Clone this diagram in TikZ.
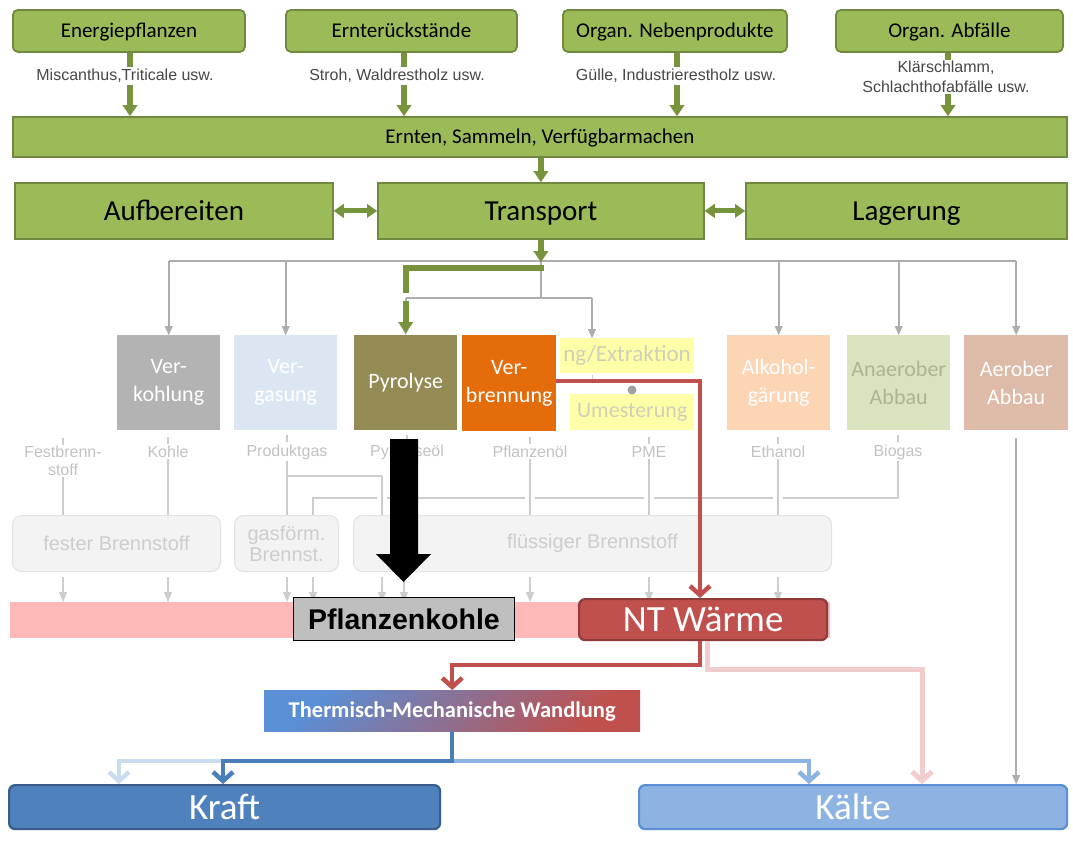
\documentclass[tikz,border=0pt]{standalone}
\usepackage{fontspec}
\setmainfont{Carlito}
\newfontfamily\arialf{Liberation Sans}
\usetikzlibrary{arrows.meta}

\definecolor{grn}{HTML}{9BBB59}
\definecolor{grnD}{HTML}{71893F}
\definecolor{grnL}{HTML}{77933C}
\definecolor{grayA}{HTML}{ADADAD}
\definecolor{grayB}{HTML}{CDCDCD}
\definecolor{grayT}{HTML}{C2C2C2}
\definecolor{kohl}{HTML}{B3B3B3}
\definecolor{verg}{HTML}{DCE6F2}
\definecolor{pyro}{HTML}{948A54}
\definecolor{verb}{HTML}{E46C0A}
\definecolor{yel}{HTML}{FFFFA8}
\definecolor{yelT}{HTML}{CFCFB8}
\definecolor{alko}{HTML}{FCD5B5}
\definecolor{anae}{HTML}{D7E4BD}
\definecolor{anaeT}{HTML}{ABB595}
\definecolor{aero}{HTML}{DDBBA8}
\definecolor{fuel}{HTML}{F3F3F3}
\definecolor{fuelD}{HTML}{E2E2E2}
\definecolor{pinkbar}{HTML}{FFB8B8}
\definecolor{pkG}{HTML}{BFBFBF}
\definecolor{redW}{HTML}{C0504D}
\definecolor{redD}{HTML}{8E3B39}
\definecolor{redL}{HTML}{F2CDCD}
\definecolor{bluK}{HTML}{4F81BD}
\definecolor{bluD}{HTML}{385D8A}
\definecolor{bluL}{HTML}{8DB3E2}
\definecolor{bluE}{HTML}{5A8FD6}
\definecolor{bluF}{HTML}{CBDBF0}
\definecolor{lineB}{HTML}{4A7EBB}

% box from its upper left to its lower right corner
\newcommand\bx[7]{\node[#2, anchor=north west, minimum width={(#5)-(#3)}, minimum height={(#6)-(#4)}] (#1) at (#3,#4) {#7};}

\tikzset{
  base/.style={inner sep=0pt, align=center},
  oneline/.style={text height=#1, text depth=0pt},
  gtop/.style={base, oneline=13.5pt, draw=grnD, line width=1.8pt, fill=grn, rounded corners=5pt, font=\fontsize{21}{24}\selectfont},
  gbar/.style={base, oneline=13.5pt, draw=grnD, line width=1.8pt, fill=grn, font=\fontsize{21}{24}\selectfont},
  gbig/.style={base, oneline=18.7pt, draw=grnD, line width=1.8pt, fill=grn, font=\fontsize{29}{32}\selectfont},
  srclbl/.style={inner sep=1.5pt, align=center, text=black!72, font=\arialf\fontsize{16}{19.5}\selectfont},
  proc/.style={base, text=white, font=\fontsize{22}{28}\selectfont},
  prod/.style={inner sep=1pt, align=center, text=grayT, font=\arialf\fontsize{16}{18}\selectfont},
  fuelbox/.style={base, draw=fuelD, line width=1pt, fill=fuel, rounded corners=9pt, text=grayB, font=\arialf\fontsize{20}{21}\selectfont},
  bigout/.style={base, oneline=23.8pt, line width=2.2pt, rounded corners=6pt, text=white, font=\fontsize{37}{40}\selectfont},
  gshaft/.style={draw=grnL, line width=6pt},
  garrow/.style={draw=grnL, line width=6pt, -{Triangle[width=15pt,length=11pt,line width=0.1pt]}},
  gdouble/.style={draw=grnL, line width=5pt, {Triangle[width=14pt,length=10pt,line width=0.1pt]}-{Triangle[width=14pt,length=10pt,line width=0.1pt]}},
  grayup/.style={draw=grayA, line width=1.8pt},
  grayarr/.style={grayup, -{Triangle[width=8pt,length=9pt,line width=0.1pt]}},
  graylo/.style={draw=grayB, line width=1.3pt},
  grayloarr/.style={graylo, -{Triangle[width=8pt,length=10pt,line width=0.1pt]}},
  vee/.style={-{Straight Barb[length=9pt,width=20pt]}},
  flow/.style={line width=4.5pt, line join=miter},
}

\begin{document}
\begin{tikzpicture}[x=1pt,y=-1pt]
\useasboundingbox[fill=white] (0,0) rectangle (1073,841);

% ---------- biomass sources ----------
\bx{e1}{gtop}{12}{9}{244}{51}{Energiepflanzen}
\bx{e2}{gtop}{285}{9}{516}{51}{Ernterückstände}
\bx{e3}{gtop}{562}{9}{786}{51}{Organ. Nebenprodukte}
\bx{e4}{gtop}{835}{9}{1062}{51}{Organ. Abfälle}

\node[srclbl] (l1) at (125,76) {Miscanthus,Triticale usw.};
\node[srclbl] (l2) at (397,76) {Stroh, Waldrestholz usw.};
\node[srclbl] (l3) at (676,76) {Gülle, Industrierestholz usw.};
\node[srclbl] (l4) at (946,77) {Klärschlamm,\\Schlachthofabfälle usw.};

\bx{bar}{gbar}{12}{116}{1066}{156}{Ernten, Sammeln, Verfügbarmachen}

\coordinate (a1) at (130,0);
\coordinate (a2) at (404,0);
\coordinate (a3) at (677,0);
\coordinate (a4) at (948,0);
\foreach \i in {1,2,3,4}{
  \draw[gshaft] (e\i.south -| a\i) -- (l\i.north -| a\i);
  \draw[garrow] (l\i.south -| a\i) -- (bar.north -| a\i);
}

% ---------- logistics ----------
\bx{auf}{gbig}{14}{182}{332}{238}{Aufbereiten}
\bx{tra}{gbig}{377}{182}{703}{238}{Transport}
\bx{lag}{gbig}{745}{182}{1066}{238}{Lagerung}
\draw[garrow] (bar.south -| tra) -- (tra.north);
\draw[gdouble] (auf.east) -- (tra.west);
\draw[gdouble] (tra.east) -- (lag.west);

% ---------- conversion processes ----------
\bx{vk}{proc,fill=kohl}{117}{335}{220}{430}{Ver-\\kohlung}
\bx{vg}{proc,fill=verg}{234}{335}{337}{430}{Ver-\\gasung}
\bx{py}{proc,fill=pyro}{354}{335}{457}{430}{Pyrolyse}
\bx{pe}{base,fill=yel}{560}{338}{694}{373}{}
\node[anchor=east, inner sep=0pt, text=yelT, font=\fontsize{23}{26}\selectfont] (pet) at (691,355.5) {ng/Extraktion};
\bx{vb}{proc,fill=verb}{462}{335}{556}{431}{Ver-\\brennung}
\bx{um}{proc,fill=yel,text=yelT}{570}{394}{694}{430}{Umesterung}
\bx{ak}{proc,fill=alko}{727}{335}{830}{430}{Alkohol-\\gärung}
\bx{an}{proc,fill=anae,text=anaeT}{847}{335}{950}{430}{Anaerober\\Abbau}
\bx{ae}{proc,fill=aero}{964}{335}{1068}{430}{Aerober\\Abbau}

% distribution lines from transport
\coordinate (h1) at (0,261);
\coordinate (h2) at (0,298);
\coordinate (pa) at (592,298);
\draw[grayup] (vk.north |- h1) -- (ae.north |- h1);
\foreach \n in {vk,vg,ak,an,ae} \draw[grayarr] (\n.north |- h1) -- (\n.north);
\draw[grayup] (tra.south |- h1) -- (tra.south |- h2);
\draw[grayup] (py.north |- h2) -- (pa);
\draw[grayarr] (pa) -- (pa |- pe.north);
\draw[grayarr] (py.north |- h2) -- (py.north);

% chosen route to pyrolysis
\coordinate (g1) at (0,268);
\draw[garrow] (tra.south) -- (tra.south |- 0,262);
\draw[gshaft, line join=miter] ([xshift=3pt]tra.south |- g1) -- (py.north |- g1) -- (py.north |- 0,293);
\draw[garrow] (py.north |- 0,301) -- ([yshift=2pt]py.north);

% link between pressing and transesterification
\draw[draw=grayB, line width=1pt] (pa |- 0,375) -- (pa |- 0,381);
\fill[black!37] (632,390) circle (4.5);

% ---------- products ----------
\node[prod] (p0) at (63,461) {Festbrenn-\\stoff};
\node[prod] (p1) at (168,452) {Kohle};
\node[prod] (p2) at (287,452) {Produktgas};
\node[prod] (p3) at (407,452) {Pyrolyseöl};
\node[prod] (p4) at (530,452) {Pflanzenöl};
\node[prod] (p5) at (649,452) {PME};
\node[prod] (p6) at (778,452) {Ethanol};
\node[prod] (p7) at (898,452) {Biogas};
\foreach \n in {p1,p2,p3,p4,p5,p6,p7} \draw[graylo] (\n.north) ++(0,-8) -- ++(0,7);
\draw[graylo] (p0.north) ++(0,-7) -- ++(0,7);

% ---------- fuel groups ----------
\bx{fb}{fuelbox}{12}{515}{220}{571}{fester Brennstoff}
\bx{gb}{fuelbox}{234}{515}{338}{571}{gasförm.\\Brennst.}
\bx{flb}{fuelbox}{353}{515}{831}{571}{flüssiger Brennstoff}

\coordinate (k1) at (382,476);
\coordinate (k2) at (313,498);
\draw[graylo] (p0.south) -- (p0.south |- fb.north);
\draw[graylo] (p1.south) -- (p1.south |- fb.north);
\draw[graylo] (p2.south) -- (p2.south |- gb.north);
\draw[graylo] (p2.south |- k1) -- (k1);
\draw[graylo] (p3.south) -- (p3.south |- flb.north);
\draw[graylo] (p7.south) -- (p7.south |- k2) -- (k2) -- (k2 |- gb.north);
\foreach \x in {382,530,649,778} \fill[white] (\x-5,495) rectangle (\x+5,501);
\draw[graylo] (k1) -- (k1 |- flb.north);
\foreach \n in {p4,p5,p6} \draw[graylo] (\n.south) -- (\n.south |- flb.north);

% ---------- heat level ----------
\bx{pb}{base,fill=pinkbar}{10}{602}{830}{638}{}
\foreach \x/\b in {63/fb,168/fb,287/gb,313/gb,382/flb,404/flb,530/flb,649/flb,778/flb}{
  \path (\b.south) ++(0,5) coordinate (s);
  \draw[grayloarr] (s -| \x,0) -- (pb.north -| \x,0);
}
\bx{pk}{base,oneline=20.4pt,fill=pkG,draw=black,line width=1pt,font=\arialf\bfseries\fontsize{28.5}{30}\selectfont}{293}{597}{514}{640}{Pflanzenkohle}
\bx{nt}{bigout,draw=redD,fill=redW}{578}{598}{826}{639}{NT Wärme}

% biochar output of pyrolysis
\coordinate (bt) at (403.5,582);
\fill[black] (bt) -- ++(27.5,-28) -- ++(-13,0) -- ++(0,-115) -- ++(-28,0) -- ++(0,115) -- ++(-14,0) -- cycle;

% heat from combustion
\coordinate (r0) at (700,381);
\draw[redW, flow, vee] (vb.east |- r0) -- (r0) -- (r0 |- nt.north);

% ---------- utilisation ----------
\bx{th}{base,oneline=14.5pt,shading=axis,top color=bluE,bottom color=redW,shading angle=45,text=white,font=\bfseries\fontsize{22.5}{24}\selectfont}{264}{690}{640}{731}{Thermisch-Mechanische Wandlung}
\bx{kr}{bigout,draw=bluD,fill=bluK}{8}{784}{439}{828}{Kraft}
\bx{kae}{bigout,draw=bluE,fill=bluL}{638}{784}{1066}{828}{Kälte}

\coordinate (q0) at (707,669);
\coordinate (q1) at (922,669);
\draw[redL, line width=5pt, line join=miter, vee] (nt.south -| q0) -- (q0) -- (q1) -- (q1 |- kae.north);
\coordinate (r1) at (700,665);
\draw[redW, flow, vee] (nt.south -| r1) -- (r1) -- (th.north |- r1) -- (th.north);

\coordinate (bj) at (0,761);
\coordinate (bk) at (223,761);
\coordinate (bf) at (119,761);
\coordinate (bc) at (809,761);
\draw[bluF, flow, vee] (bk) -- (bf) -- (bf |- kr.north);
\draw[bluL, flow, vee] (th.south |- bj) -- (bc) -- (bc |- kae.north);
\draw[lineB, flow, vee] (th.south) -- (th.south |- bj) -- (bk) -- (bk |- kr.north);

\draw[grayup, -{Triangle[width=8pt,length=9pt,line width=0.1pt]}] ([yshift=-8pt]ae.south) -- (ae.south |- kae.north);
\end{tikzpicture}
\end{document}
